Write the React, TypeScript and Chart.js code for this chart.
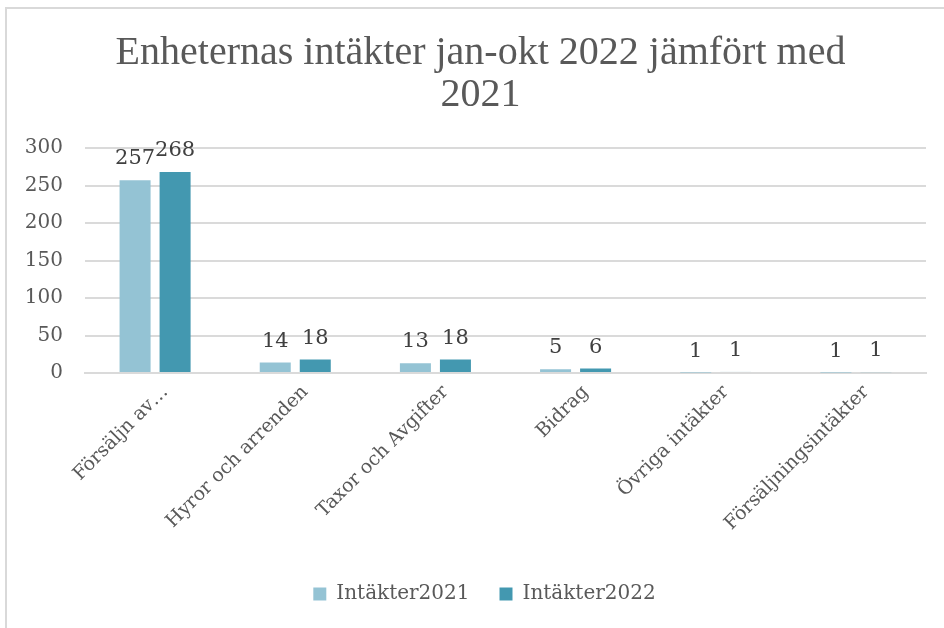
import { useEffect, useRef } from "react";
import { Chart, registerables } from "chart.js";

Chart.register(...registerables);

const titleLines = ["Enheternas intäkter jan-okt 2022 jämfört med", "2021"];
const categories = [
  "Försäljn av…",
  "Hyror och arrenden",
  "Taxor och Avgifter",
  "Bidrag",
  "Övriga intäkter",
  "Försäljningsintäkter",
];
const seriesNames = ["Intäkter2021", "Intäkter2022"];
const values2021 = [257, 14, 13, 5, 0.6, 0.6];
const values2022 = [268, 18, 18, 6, 1.4, 1.2];
const yTicks = { min: 0, max: 300, step: 50 };

const COLORS = ["#94c3d4", "#4398b0"];
const TEXT = "#595959";
const GRID = "#dadada";

const dataLabelPlugin = {
  id: "dataLabels",
  afterDatasetsDraw(chart: any) {
    const ctx = chart.ctx;
    ctx.save();
    ctx.font = "21px 'DejaVu Serif'";
    ctx.fillStyle = "#404040";
    ctx.textAlign = "center";
    ctx.textBaseline = "alphabetic";
    chart.data.datasets.forEach((ds: any, i: number) => {
      const meta = chart.getDatasetMeta(i);
      meta.data.forEach((bar: any, j: number) => {
        const v = ds.data[j];
        ctx.fillText(String(Math.round(v)), bar.x, bar.y - 16);
      });
    });
    ctx.restore();
  },
};

const shiftPlugin = {
  id: "blockShift",
  afterLayout(chart: any) {
    const lg = chart.legend;
    if (lg) {
      lg.left += 18;
      lg.right += 18;
      lg.top += 4;
      lg.bottom += 4;
    }
    const tb = chart.titleBlock;
    if (tb) {
      tb.left += 14;
      tb.right += 14;
    }
  },
};

export default function App() {
  const ref = useRef<HTMLCanvasElement>(null);
  useEffect(() => {
    if (!ref.current) return;
    const chart = new Chart(ref.current, {
      type: "bar",
      data: {
        labels: categories,
        datasets: [
          {
            label: seriesNames[0],
            data: values2021,
            backgroundColor: COLORS[0],
            categoryPercentage: 0.571,
            barPercentage: 0.775,
          },
          {
            label: seriesNames[1],
            data: values2022,
            backgroundColor: COLORS[1],
            categoryPercentage: 0.571,
            barPercentage: 0.775,
          },
        ],
      },
      options: {
        animation: false,
        responsive: false,
        devicePixelRatio: 1,
        layout: { padding: { top: 0, right: 18, bottom: 18, left: 0 } },
        plugins: {
          title: {
            display: true,
            text: titleLines,
            color: TEXT,
            font: { family: "'Liberation Serif'", size: 40, weight: "normal", lineHeight: 1.05 },
            padding: { top: 23, bottom: 32 },
          },
          legend: {
            display: true,
            position: "bottom",
            labels: {
              boxWidth: 13,
              boxHeight: 13,
              padding: 30,
              color: TEXT,
              font: { family: "'DejaVu Serif'", size: 20 },
            },
          },
          tooltip: { enabled: false },
        },
        scales: {
          x: {
            grid: { display: false },
            border: { display: true, color: GRID, width: 2 },
            ticks: {
              color: TEXT,
              font: { family: "'DejaVu Serif'", size: 19 },
              minRotation: 45,
              maxRotation: 45,
              autoSkip: false,
              padding: 0,
              labelOffset: 10,
            },
            afterFit(scale: any) {
              scale.height = 177;
            },
          },
          y: {
            min: yTicks.min,
            max: yTicks.max,
            grid: { color: GRID, lineWidth: 2, drawTicks: false },
            border: { display: false },
            ticks: {
              stepSize: yTicks.step,
              color: TEXT,
              padding: 22,
              font: { family: "'DejaVu Serif'", size: 20 },
            },
            afterFit(scale: any) {
              scale.width = 78;
            },
          },
        },
      },
      plugins: [dataLabelPlugin, shiftPlugin],
    } as any);
    return () => chart.destroy();
  }, []);

  return (
    <div
      style={{
        position: "absolute",
        left: 5,
        top: 7,
        width: 937,
        height: 619,
        borderLeft: "2px solid #d9d9d9",
        borderTop: "2px solid #d9d9d9",
        background: "#fff",
      }}
    >
      <canvas ref={ref} width={937} height={619} style={{ display: "block" }} />
    </div>
  );
}
